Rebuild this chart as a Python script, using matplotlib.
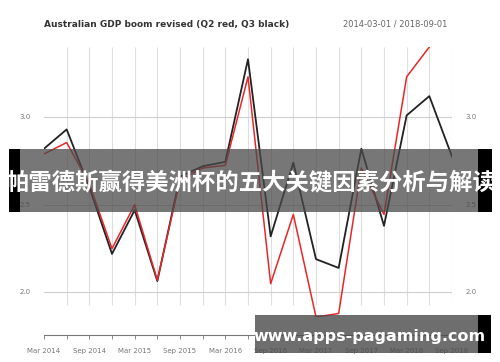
"""Australian GDP revised growth, Q2 vs Q3 vintage."""

import matplotlib.pyplot as plt
from matplotlib.patches import Rectangle

quarters = ["Mar 2014", "Jun 2014", "Sep 2014", "Dec 2014", "Mar 2015", "Jun 2015",
            "Sep 2015", "Dec 2015", "Mar 2016", "Jun 2016", "Sep 2016", "Dec 2016",
            "Mar 2017", "Jun 2017", "Sep 2017", "Dec 2017", "Mar 2018", "Jun 2018",
            "Sep 2018"]
q3_black = [2.82, 2.93, 2.60, 2.22, 2.47, 2.065, 2.66, 2.72, 2.745, 3.33, 2.32,
            2.74, 2.19, 2.14, 2.82, 2.38, 3.01, 3.12, 2.775]
q2_red = [2.79, 2.855, 2.62, 2.25, 2.50, 2.07, 2.64, 2.71, 2.725, 3.23, 2.05,
          2.445, 1.86, 1.88, 2.71, 2.445, 3.23, 3.40]
y_ticks = [2.0, 2.5, 3.0]
banner_text = "帕雷德斯赢得美洲杯的五大关键因素分析与解读"
url_text = "www.apps-pagaming.com"

W, H = 500, 362
fig = plt.figure(figsize=(5.0, 3.62), dpi=100)
ax = fig.add_axes([44 / W, 1 - 317 / H, (452 - 44) / W, (317 - 47) / H])

x_black = range(len(q3_black))
x_red = range(len(q2_red))
n = len(quarters)

# grid
ax.vlines(range(1, n), 1.93, 3.40, color="#dedede", linewidth=0.8, zorder=0)
for v in y_ticks:
    ax.axhline(v, color="#cfcfcf", linewidth=0.8, zorder=0)
    ax.text(-0.6, v, f"{v:.1f}", ha="right", va="center", fontsize=5, color="#777777")
    ax.text(n - 1 + 0.6, v, f"{v:.1f}", ha="left", va="center", fontsize=5, color="#777777")

ax.plot(x_red, q2_red, color="#e8262a", linewidth=1.1, zorder=3)
ax.plot(x_black, q3_black, color="#222222", linewidth=1.3, zorder=2)

ax.set_xlim(0, n - 1)
ax.set_ylim(1.86, 3.40)
for side in ["top", "left", "right"]:
    ax.spines[side].set_visible(False)
ax.spines["bottom"].set_position(("outward", 13))
ax.spines["bottom"].set_color("#777777")
ax.spines["bottom"].set_linewidth(0.8)
ax.set_yticks([])
ax.set_xticks(range(n))
ax.set_xticklabels([q if i % 2 == 0 else "" for i, q in enumerate(quarters)],
                   fontsize=5, color="#777777")
ax.tick_params(axis="x", length=3, width=0.6, color="#777777", pad=6)

fig.text(44 / W, 1 - 24 / H, "Australian GDP boom revised (Q2 red, Q3 black)",
         fontsize=6.5, fontweight="bold", color="#333333", va="center")
fig.text(447 / W, 1 - 24 / H, "2014-03-01 / 2018-09-01",
         fontsize=6, color="#666666", va="center", ha="right")

# overlay banners
fig.patches.append(Rectangle((9 / W, 1 - 212 / H), 483 / W, 63 / H, transform=fig.transFigure,
                             facecolor="#4a4a4a", alpha=0.75, edgecolor="none", zorder=5))
fig.patches.append(Rectangle((9 / W, 1 - 212 / H), 11 / W, 63 / H, transform=fig.transFigure,
                             facecolor="black", edgecolor="none", zorder=5))
fig.patches.append(Rectangle((478 / W, 1 - 212 / H), 14 / W, 63 / H, transform=fig.transFigure,
                             facecolor="black", edgecolor="none", zorder=5))
fig.text(251 / W, 1 - 182 / H, banner_text, family=["Noto Sans CJK SC", "DejaVu Sans"],
         fontsize=16.8, fontweight="bold", color="white", ha="center", va="center", zorder=6)

fig.patches.append(Rectangle((255 / W, 1 - 353 / H), 236 / W, 38 / H, transform=fig.transFigure,
                             facecolor="#4a4a4a", alpha=0.8, edgecolor="none", zorder=5))
fig.patches.append(Rectangle((478 / W, 1 - 353 / H), 13 / W, 38 / H, transform=fig.transFigure,
                             facecolor="black", edgecolor="none", zorder=5))
fig.text(370 / W, 1 - 337 / H, url_text, fontsize=11.5, fontweight="bold",
         color="white", ha="center", va="center", zorder=6)

fig.savefig("out.png", dpi=100)
plt.close(fig)
